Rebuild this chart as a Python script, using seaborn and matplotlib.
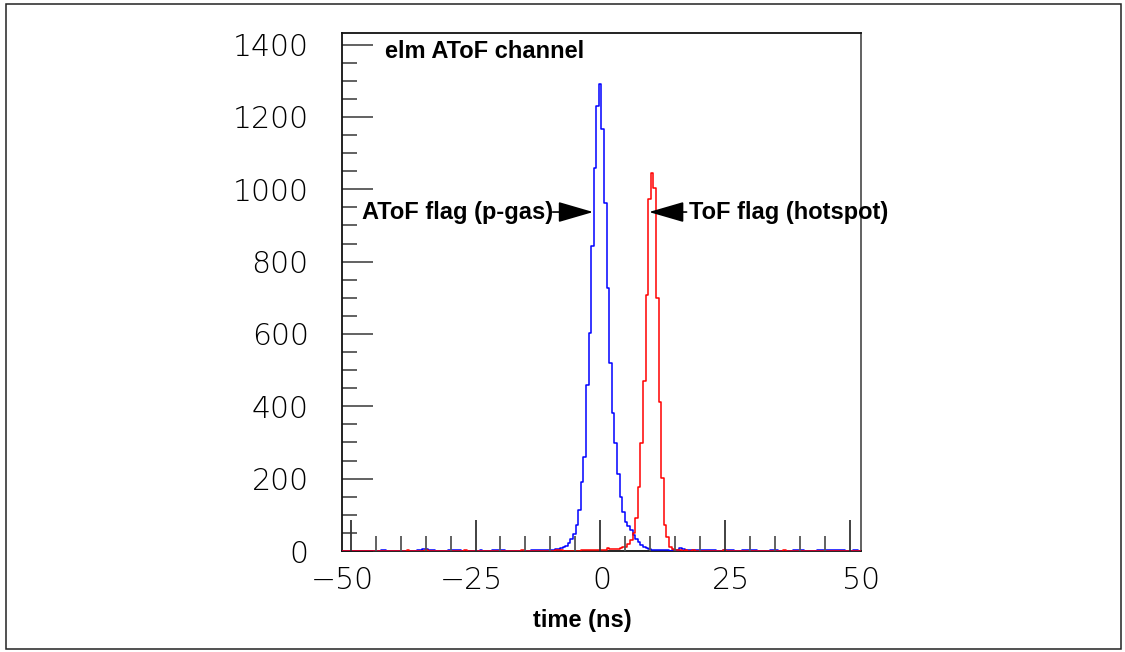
import numpy as np
import pandas as pd
import matplotlib
matplotlib.use("Agg")
import matplotlib.pyplot as plt
from matplotlib.patches import Rectangle
import seaborn as sns

sns.set_style("white")
plt.rcParams["font.family"] = ["Liberation Sans", "DejaVu Sans"]
plt.rcParams["text.color"] = "black"
plt.rcParams["axes.labelcolor"] = "black"
plt.rcParams["xtick.color"] = "black"
plt.rcParams["ytick.color"] = "black"

# Histogram binning: 200 bins of 0.5 ns between -50 and 50 ns
t_min, t_max, n_bins = -50.0, 50.0, 200

# Counts per bin, one row per 10 ns
atof_counts = [
    0, 0, 0, 0, 0, 0, 0, 0, 0, 0, 0, 0, 0, 0, 0, 2, 2, 0, 0, 0,
    0, 0, 0, 0, 0, 0, 0, 0, 0, 2, 3, 6, 5, 3, 3, 3, 0, 0, 0, 0,
    0, 3, 3, 3, 3, 2, 0, 0, 0, 0, 0, 0, 0, 2, 0, 0, 0, 0, 3, 3,
    3, 2, 3, 0, 0, 0, 0, 0, 0, 0, 0, 0, 0, 2, 3, 3, 3, 3, 4, 4,
    4, 4, 5, 5, 7, 10, 15, 23, 33, 46, 72, 112, 190, 261, 460, 603, 843, 1060, 1230, 1290,
    1166, 963, 727, 519, 381, 298, 213, 150, 108, 80, 70, 58, 45, 33, 25, 17, 12, 8, 6, 4,
    3, 3, 2, 2, 3, 2, 1, 2, 3, 2, 8, 5, 3, 2, 3, 2, 3, 2, 2, 2,
    2, 2, 3, 2, 0, 0, 0, 2, 3, 3, 2, 0, 0, 0, 2, 3, 3, 2, 3, 3,
    0, 0, 0, 0, 0, 2, 3, 2, 0, 0, 0, 0, 0, 0, 2, 3, 3, 2, 0, 0,
    0, 0, 0, 2, 3, 2, 2, 3, 3, 2, 3, 2, 3, 2, 0, 0, 0, 2, 3, 0,
]
tof_counts = [
    0, 0, 0, 0, 0, 0, 0, 0, 0, 0, 0, 0, 0, 0, 0, 0, 0, 0, 0, 0,
    0, 0, 0, 0, 0, 3, 0, 0, 0, 0, 0, 0, 2, 0, 0, 0, 0, 0, 0, 0,
    0, 0, 0, 0, 0, 0, 0, 2, 0, 0, 0, 0, 0, 0, 0, 0, 0, 0, 0, 0,
    0, 0, 0, 0, 0, 0, 0, 0, 0, 2, 0, 0, 0, 0, 0, 0, 0, 0, 0, 0,
    0, 0, 2, 2, 2, 0, 0, 0, 0, 0, 0, 0, 2, 2, 3, 2, 2, 3, 2, 3,
    3, 4, 8, 6, 5, 5, 6, 8, 10, 12, 18, 30, 50, 90, 178, 298, 469, 709, 972, 1046,
    1004, 699, 413, 201, 72, 38, 12, 5, 3, 2, 2, 1, 2, 1, 0, 2, 1, 0, 1, 0,
    0, 0, 0, 0, 0, 0, 0, 2, 0, 0, 0, 0, 0, 0, 0, 0, 0, 0, 0, 0,
    0, 0, 0, 0, 0, 0, 0, 0, 0, 0, 2, 0, 0, 0, 0, 0, 0, 0, 0, 0,
    0, 0, 0, 0, 0, 0, 0, 0, 0, 0, 0, 0, 0, 0, 0, 0, 0, 0, 0, 0,
]

x_ticks = [-50, -25, 0, 25, 50]
y_ticks = [0, 200, 400, 600, 800, 1000, 1200, 1400]
title_text = "elm AToF channel"
x_label = "time (ns)"
atof_label = "AToF flag (p-gas)"
tof_label = "ToF flag (hotspot)"

edges = np.linspace(t_min, t_max, n_bins + 1)
centers = 0.5 * (edges[:-1] + edges[1:])
atof_df = pd.DataFrame({"time": centers, "count": atof_counts})
tof_df = pd.DataFrame({"time": centers, "count": tof_counts})

fig = plt.figure(figsize=(11.25, 6.52), dpi=100)
fig.patch.set_facecolor("white")
ax = fig.add_axes([0.304, 0.1549, 0.4613, 0.794])

sns.histplot(data=atof_df, x="time", weights="count", bins=list(edges),
             element="step", fill=False, color="#0000ff", linewidth=1.1,
             zorder=3, ax=ax)
sns.histplot(data=tof_df, x="time", weights="count", bins=list(edges),
             element="step", fill=False, color="#ff0000", linewidth=1.1,
             zorder=3, ax=ax)

ax.set_xlim(t_min, t_max)
ax.set_ylim(0, 1431)
ax.set_ylabel("")

tick_font = dict(family=["DejaVu Sans"], weight=200, size=21.5)
ax.set_xticks(x_ticks)
ax.set_xticklabels(["\u2212" + str(abs(v)) if v < 0 else str(v) for v in x_ticks],
                   fontdict=tick_font)
ax.tick_params(axis="x", length=0, pad=11)
ax.set_yticks(y_ticks)
ax.set_yticklabels([str(v) for v in y_ticks], fontdict=tick_font)
ax.set_yticks(np.arange(0, 1431, 50), minor=True)
ax.tick_params(axis="y", which="major", direction="in", length=22, width=1.3,
               color="#555555", pad=24, left=True)
ax.tick_params(axis="y", which="minor", direction="in", length=11, width=1.3,
               color="#555555", left=True)

# Frame tick marks along the bottom edge
frame = ax.twiny()
frame.set_xlim(-51.74, 52.2)
frame.xaxis.set_ticks_position("bottom")
frame.set_xticks([-50, -25, 0, 25, 50])
frame.set_xticks(np.arange(-50, 51, 5), minor=True)
frame.tick_params(axis="x", which="major", direction="in", length=22, width=1.3,
                  color="#333333", labelbottom=False, labeltop=False)
frame.tick_params(axis="x", which="minor", direction="in", length=11, width=1.3,
                  color="#555555", labelbottom=False, labeltop=False)
for sp in frame.spines.values():
    sp.set_visible(False)

for name, sp in ax.spines.items():
    sp.set_visible(True)
    sp.set_linewidth(1.3)
    sp.set_zorder(1)
    sp.set_color("#111111" if name in ("left", "bottom", "top") else "#555555")

ax.set_xlabel(x_label, fontsize=17, fontweight="bold")
ax.xaxis.set_label_coords(0.464, -0.135)
ax.xaxis.label.set_va("center")

ax.text(0.083, 0.964, title_text, transform=ax.transAxes, fontsize=17,
        fontweight="bold", ha="left", va="center")

label_y = 937
ax.text(-46.1, label_y, atof_label, fontsize=17, fontweight="bold",
        ha="left", va="center")
ax.annotate("", xy=(-1.6, label_y), xytext=(-9.4, label_y),
            arrowprops=dict(arrowstyle="-|>,head_length=1.1,head_width=0.32",
                            color="black", lw=1.2, mutation_scale=20,
                            shrinkA=0, shrinkB=0))
ax.text(16.9, label_y, tof_label, fontsize=17, fontweight="bold",
        ha="left", va="center")
ax.annotate("", xy=(9.15, label_y), xytext=(16.4, label_y),
            arrowprops=dict(arrowstyle="-|>,head_length=1.1,head_width=0.32",
                            color="black", lw=1.2, mutation_scale=20,
                            shrinkA=0, shrinkB=0))

# Canvas border
fig.patches.append(Rectangle((5.5 / 1125, 3.5 / 652), 1115.5 / 1125, 645 / 652,
                             transform=fig.transFigure, fill=False,
                             edgecolor="#222222", linewidth=1.1))

fig.savefig("out.png", dpi=100, facecolor="white")
